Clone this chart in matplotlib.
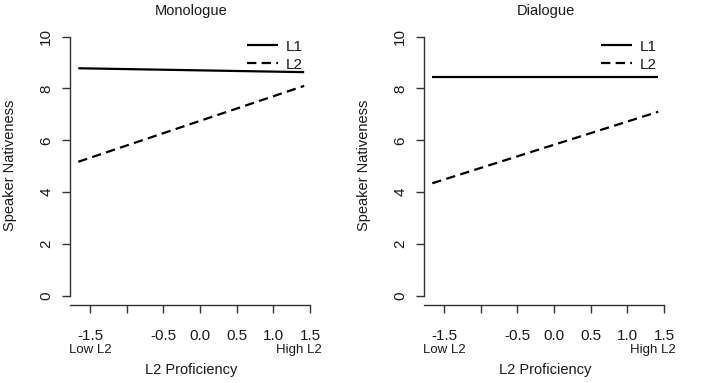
import matplotlib
matplotlib.use("Agg")
import matplotlib.pyplot as plt
import numpy as np

plt.rcParams['font.family'] = ['Liberation Sans', 'DejaVu Sans']

titles = ["Monologue", "Dialogue"]
x_ends = [-1.66, 1.42]
l1_mono = [8.78, 8.63]
l2_mono = [5.17, 8.10]
l1_dia = [8.46, 8.46]
l2_dia = [4.34, 7.10]
series = [(l1_mono, l2_mono), (l1_dia, l2_dia)]
xticks = [-1.5, -1.0, -0.5, 0.0, 0.5, 1.0, 1.5]
xticklabels = ["-1.5", "", "-0.5", "0.0", "0.5", "1.0", "1.5"]
yticks = [0, 2, 4, 6, 8, 10]
legend_labels = ["L1", "L2"]

W, H = 709, 383
fig = plt.figure(figsize=(W / 100, H / 100), dpi=100)

ax_col = "#333333"
txt_col = "#1a1a1a"
xlim = (-1.773, 1.54)
ylim = (-0.36, 10.4)

lefts = [70, 424]
for i, (title, (l1, l2)) in enumerate(zip(titles, series)):
    left = lefts[i]
    right = left + 243
    ax = fig.add_axes([left / W, 1 - 305 / H, (right - left) / W, (305 - 26.3) / H])
    ax.set_xlim(*xlim)
    ax.set_ylim(*ylim)
    ax.plot(x_ends, l1, color="black", lw=1.6, solid_capstyle="butt", label=legend_labels[0])
    ax.plot(x_ends, l2, color="black", lw=1.6, dashes=(4.2, 2.4), label=legend_labels[1])
    for s in ["top", "right"]:
        ax.spines[s].set_visible(False)
    ax.spines["left"].set_bounds(0, 10)
    ax.spines["bottom"].set_bounds(xlim[0], 1.5)
    for s in ["left", "bottom"]:
        ax.spines[s].set_color(ax_col)
        ax.spines[s].set_linewidth(1.0)
    ax.set_xticks(xticks)
    ax.set_xticklabels(xticklabels)
    ax.set_yticks(yticks)
    ax.set_yticklabels([str(v) for v in yticks], rotation=90, va="center")
    ax.tick_params(axis="x", length=6, width=1.0, color=ax_col, pad=11,
                   labelsize=11, labelcolor=txt_col)
    ax.tick_params(axis="y", length=6, width=1.0, color=ax_col, pad=6,
                   labelsize=11, labelcolor=txt_col)
    ax.set_title(title, fontsize=10.5, color=txt_col, pad=8)
    ax.set_xlabel("L2 Proficiency", fontsize=10.5, color=txt_col, labelpad=15)
    ax.set_ylabel("Speaker Nativeness", fontsize=10.5, color=txt_col, labelpad=16)
    ax.text(-1.5, -0.161, "Low L2", transform=ax.get_xaxis_transform(),
            ha="center", va="center", fontsize=9.5, color=txt_col)
    ax.text(1.35, -0.161, "High L2", transform=ax.get_xaxis_transform(),
            ha="center", va="center", fontsize=9.5, color=txt_col)
    leg = ax.legend(loc="upper right", bbox_to_anchor=(1.0, 0.99), frameon=False,
                    fontsize=11, handlelength=2.0, handletextpad=0.5,
                    labelspacing=0.25, borderaxespad=0.3)
    for t in leg.get_texts():
        t.set_color(txt_col)

fig.savefig("out.png", dpi=100)
